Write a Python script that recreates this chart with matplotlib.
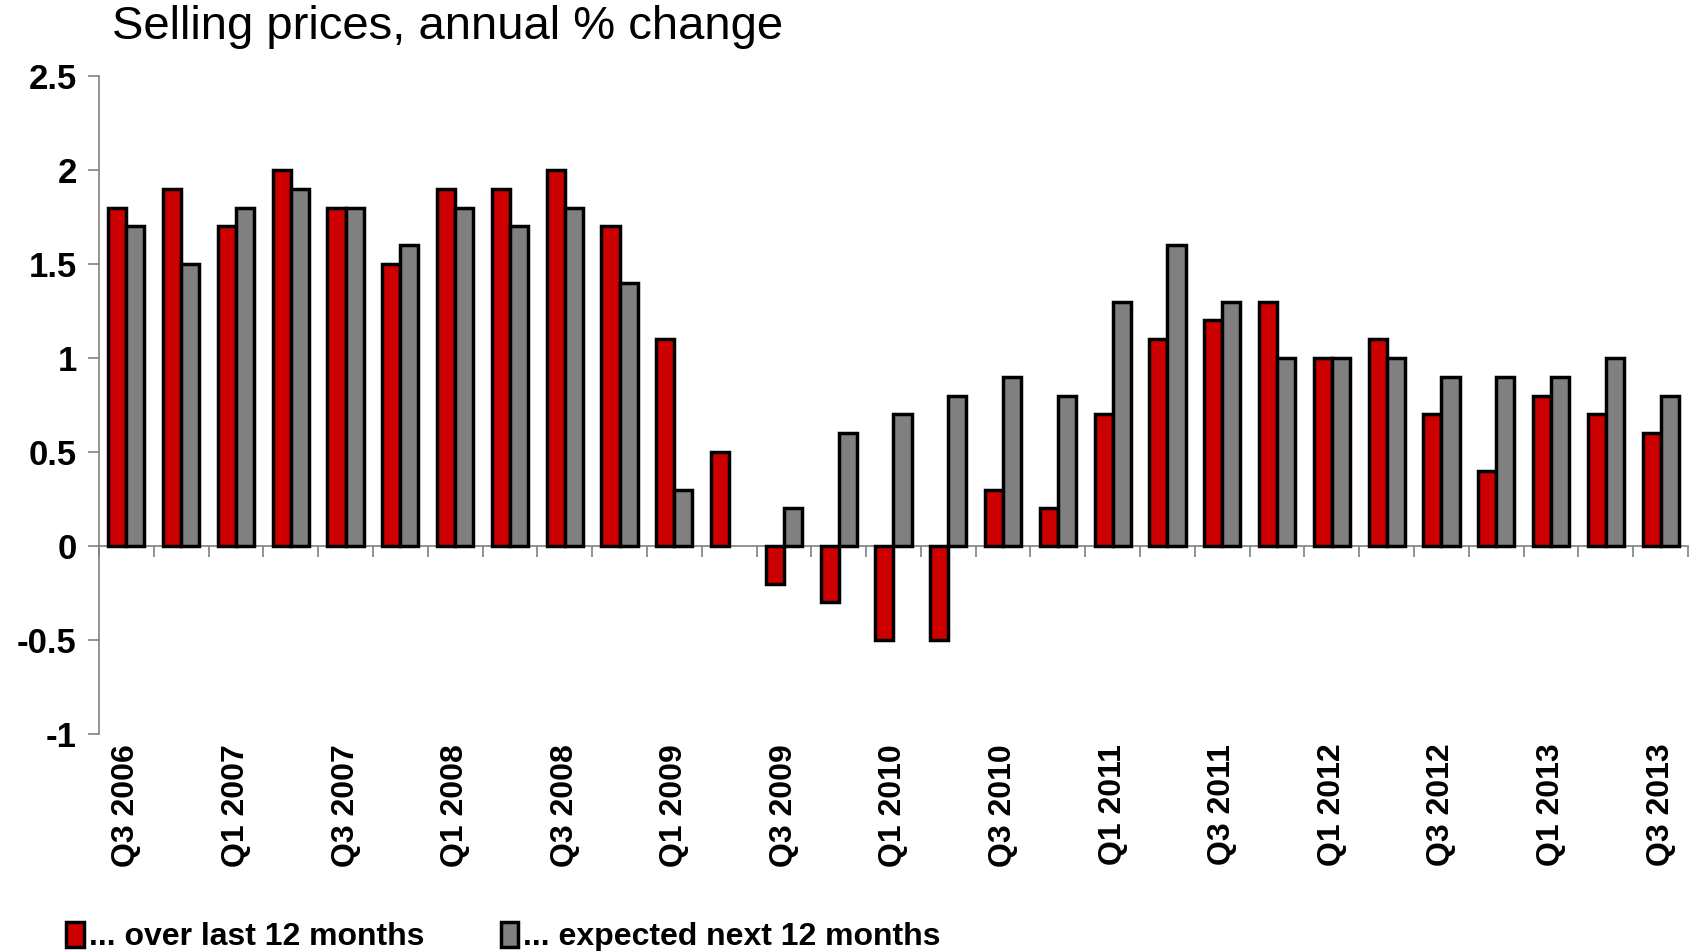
import numpy as np
import matplotlib
matplotlib.use("Agg")
import matplotlib.pyplot as plt
import matplotlib.transforms as mtransforms

plt.rcParams['font.family'] = ['Liberation Sans', 'DejaVu Sans']

quarters = ["Q3 2006", "Q4 2006", "Q1 2007", "Q2 2007", "Q3 2007", "Q4 2007",
            "Q1 2008", "Q2 2008", "Q3 2008", "Q4 2008", "Q1 2009", "Q2 2009",
            "Q3 2009", "Q4 2009", "Q1 2010", "Q2 2010", "Q3 2010", "Q4 2010",
            "Q1 2011", "Q2 2011", "Q3 2011", "Q4 2011", "Q1 2012", "Q2 2012",
            "Q3 2012", "Q4 2012", "Q1 2013", "Q2 2013", "Q3 2013"]
last_12m = [1.8, 1.9, 1.7, 2.0, 1.8, 1.5, 1.9, 1.9, 2.0, 1.7, 1.1, 0.5,
            -0.2, -0.3, -0.5, -0.5, 0.3, 0.2, 0.7, 1.1, 1.2, 1.3, 1.0, 1.1,
            0.7, 0.4, 0.8, 0.7, 0.6]
next_12m = [1.7, 1.5, 1.8, 1.9, 1.8, 1.6, 1.8, 1.7, 1.8, 1.4, 0.3, 0.0,
            0.2, 0.6, 0.7, 0.8, 0.9, 0.8, 1.3, 1.6, 1.3, 1.0, 1.0, 1.0,
            0.9, 0.9, 0.9, 1.0, 0.8]
yticks = [-1, -0.5, 0, 0.5, 1, 1.5, 2, 2.5]
ytick_labels = ["-1", "-0.5", "0", "0.5", "1", "1.5", "2", "2.5"]

fig = plt.figure(figsize=(16.9, 9.51), dpi=100)
ax = fig.add_axes([99 / 1690, 1 - 734 / 951, (1688 - 99) / 1690, (734 - 76) / 951])

x = np.arange(len(quarters))
w = 0.33
b1 = ax.bar(x - w / 2, last_12m, w, color="#CC0000", edgecolor="black", linewidth=2.5,
            label="... over last 12 months", zorder=3)
b2 = ax.bar(x + w / 2, next_12m, w, color="#808080", edgecolor="black", linewidth=2.5,
            label="... expected next 12 months", zorder=3)
# zero-height bars are not drawn in the original
for bars in (b1, b2):
    for r in bars:
        if r.get_height() == 0:
            r.set_visible(False)

ax.set_xlim(-0.5, len(quarters) - 0.5)
ax.set_ylim(-1, 2.5)
ax.set_yticks(yticks)
ax.set_yticklabels(ytick_labels, fontsize=25, fontweight="bold")

for s in ["top", "right"]:
    ax.spines[s].set_visible(False)
ax.spines["left"].set_color("#808080")
ax.spines["left"].set_linewidth(1.2)
ax.spines["bottom"].set_position(("data", 0))
ax.spines["bottom"].set_color("#808080")
ax.spines["bottom"].set_linewidth(1.2)
ax.tick_params(axis="y", direction="out", length=8, color="#808080", width=1.2, pad=8)

ax.set_xticks(np.arange(len(quarters) + 1) - 0.5)
ax.set_xticklabels([])
ax.tick_params(axis="x", direction="out", length=8, color="#808080", width=1.2)

trans = mtransforms.blended_transform_factory(ax.transData, ax.transAxes)
for i, q in enumerate(quarters):
    if i % 2 == 0:
        ax.text(i, -0.015, q, transform=trans, rotation=90, ha="center", va="top",
                fontsize=23, fontweight="bold")

fig.text(112 / 1690, 1 - 27 / 951, "Selling prices, annual % change",
         fontsize=34, va="center", ha="left")

fig.legend(loc="lower left", bbox_to_anchor=(44 / 1690, -0.025), ncol=2, frameon=False,
           prop={"size": 23, "weight": "bold"}, handlelength=0.55, handleheight=0.8,
           handletextpad=0.15, columnspacing=2.4, borderpad=0.2)

fig.savefig("out.png", dpi=100)
